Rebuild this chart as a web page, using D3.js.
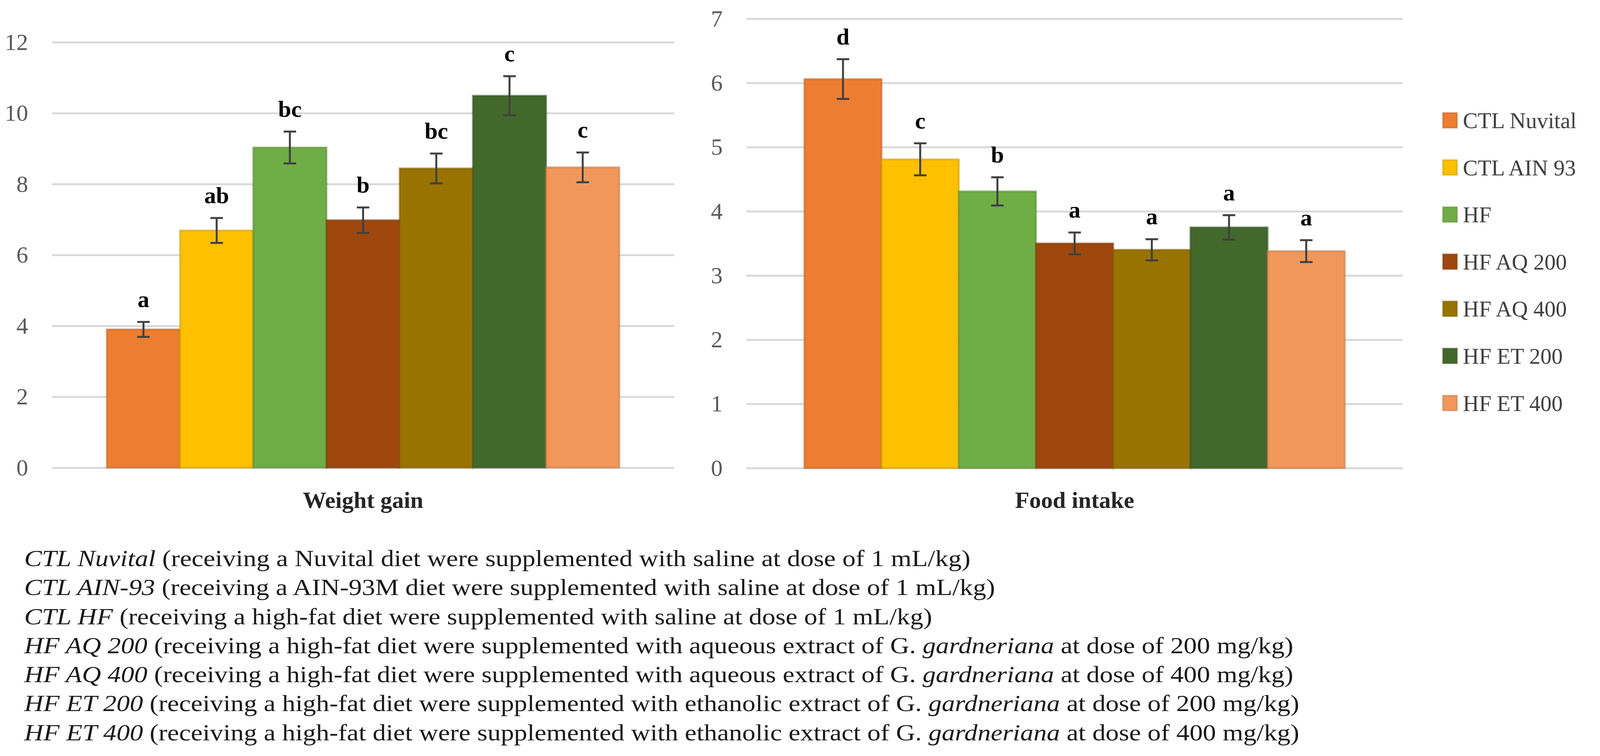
<!DOCTYPE html>
<html>
<head>
<meta charset="utf-8">
<script src="https://cdn.jsdelivr.net/npm/d3@7"></script>
<style>
  body { margin: 0; background: #fff; }
  text { font-family: 'Liberation Serif', 'Times New Roman', serif; }
</style>
</head>
<body>
<svg id="chart" width="4143" height="1935"></svg>
<script>
// groups (legend order = bar order)
const groups = ['CTL Nuvital', 'CTL AIN 93', 'HF', 'HF AQ 200', 'HF AQ 400', 'HF ET 200', 'HF ET 400'];

// weight gain panel
const weightGain = [3.9, 6.69, 9.03, 6.98, 8.44, 10.49, 8.47];
const weightErr = [0.21, 0.35, 0.45, 0.36, 0.42, 0.55, 0.42];
const weightLetters = ['a', 'ab', 'bc', 'b', 'bc', 'c', 'c'];
const weightTicks = [0, 2, 4, 6, 8, 10, 12];

// food intake panel
const foodIntake = [6.06, 4.81, 4.31, 3.5, 3.4, 3.75, 3.38];
const foodErr = [0.31, 0.25, 0.22, 0.17, 0.165, 0.19, 0.17];
const foodLetters = ['d', 'c', 'b', 'a', 'a', 'a', 'a'];
const foodTicks = [0, 1, 2, 3, 4, 5, 6, 7];

// caption lines: alternating italic / plain pieces
const captionLines = [
  ['CTL Nuvital', ' (receiving a Nuvital diet were supplemented with saline at dose of 1 mL/kg)'],
  ['CTL AIN-93', ' (receiving a AIN-93M diet were supplemented with saline at dose of 1 mL/kg)'],
  ['CTL HF', ' (receiving a high-fat diet were supplemented with saline at dose of 1 mL/kg)'],
  ['HF AQ 200', ' (receiving a high-fat diet were supplemented with aqueous extract of G. ', 'gardneriana', ' at dose of 200 mg/kg)'],
  ['HF AQ 400', ' (receiving a high-fat diet were supplemented with aqueous extract of G. ', 'gardneriana', ' at dose of 400 mg/kg)'],
  ['HF ET 200', ' (receiving a high-fat diet were supplemented with ethanolic extract of G. ', 'gardneriana', ' at dose of 200 mg/kg)'],
  ['HF ET 400', ' (receiving a high-fat diet were supplemented with ethanolic extract of G. ', 'gardneriana', ' at dose of 400 mg/kg)']
];

const colors = ['#ED7D31', '#FFC000', '#70AD47', '#9E480E', '#997300', '#43682B', '#F1975A'];

const svg = d3.select('#chart');

function panel(opts) {
  const { x0, x1, y0, yTop, max, values, errs, letters, ticks, title } = opts;

  const x = d3.scaleBand().domain(groups).range([x0, x1]).paddingInner(0).paddingOuter(0.75);
  const y = d3.scaleLinear().domain([0, max]).range([y0, yTop]);

  const g = svg.append('g');

  // gridlines + tick labels
  const axis = g.append('g')
    .attr('transform', `translate(${x0},0)`)
    .call(d3.axisLeft(y).tickValues(ticks).tickSize(-(x1 - x0)).tickPadding(61).tickFormat(d3.format('d')));
  axis.select('.domain').remove();
  axis.selectAll('.tick line').attr('stroke', '#d9d9d9').attr('stroke-width', 5);
  axis.selectAll('.tick text')
    .attr('fill', '#595959')
    .style('font-size', '60px')
    .style('font-family', "'Liberation Serif', serif");

  // bars
  g.selectAll('.bar')
    .data(values)
    .enter()
    .append('rect')
    .attr('class', 'bar')
    .attr('x', (d, i) => x(groups[i]))
    .attr('width', x.bandwidth())
    .attr('y', d => y(d))
    .attr('height', d => y(0) - y(d))
    .attr('fill', (d, i) => colors[i])
    .attr('stroke', (d, i) => d3.color(colors[i]).darker(0.6))
    .attr('stroke-opacity', 0.55)
    .attr('stroke-width', 5);

  // error bars
  const eb = g.selectAll('.err')
    .data(values)
    .enter()
    .append('g')
    .attr('class', 'err')
    .attr('stroke', '#404040')
    .attr('stroke-width', 5);
  const cx = i => x(groups[i]) + x.bandwidth() / 2;
  eb.append('line')
    .attr('x1', (d, i) => cx(i)).attr('x2', (d, i) => cx(i))
    .attr('y1', (d, i) => y(d + errs[i])).attr('y2', (d, i) => y(d - errs[i]));
  eb.append('line')
    .attr('x1', (d, i) => cx(i) - 16).attr('x2', (d, i) => cx(i) + 16)
    .attr('y1', (d, i) => y(d + errs[i])).attr('y2', (d, i) => y(d + errs[i]));
  eb.append('line')
    .attr('x1', (d, i) => cx(i) - 16).attr('x2', (d, i) => cx(i) + 16)
    .attr('y1', (d, i) => y(d - errs[i])).attr('y2', (d, i) => y(d - errs[i]));

  // significance letters
  g.selectAll('.letter')
    .data(values)
    .enter()
    .append('text')
    .attr('class', 'letter')
    .attr('x', (d, i) => cx(i))
    .attr('y', (d, i) => y(d + errs[i]) - 38)
    .attr('text-anchor', 'middle')
    .style('font-size', '60px')
    .style('font-weight', 'bold')
    .attr('fill', '#000')
    .text((d, i) => letters[i]);

  // category label
  g.append('text')
    .attr('x', (x0 + x1) / 2)
    .attr('y', 1300)
    .attr('text-anchor', 'middle')
    .style('font-size', '60px')
    .style('font-weight', 'bold')
    .attr('fill', '#262626')
    .text(title);
}

panel({ x0: 133, x1: 1726, y0: 1197, yTop: 108, max: 12, values: weightGain, errs: weightErr, letters: weightLetters, ticks: weightTicks, title: 'Weight gain' });
panel({ x0: 1911, x1: 3591, y0: 1198, yTop: 48, max: 7, values: foodIntake, errs: foodErr, letters: foodLetters, ticks: foodTicks, title: 'Food intake' });

// legend
const legend = svg.append('g').attr('transform', 'translate(3694,308)');
const li = legend.selectAll('g')
  .data(groups)
  .enter()
  .append('g')
  .attr('transform', (d, i) => `translate(0,${i * 120.6})`);
li.append('rect')
  .attr('x', 0).attr('y', -19)
  .attr('width', 36).attr('height', 38)
  .attr('fill', (d, i) => colors[i])
  .attr('stroke', (d, i) => d3.color(colors[i]).darker(0.6))
  .attr('stroke-opacity', 0.55)
  .attr('stroke-width', 4);
li.append('text')
  .attr('x', 51).attr('y', 20)
  .style('font-size', '57px')
  .attr('fill', '#404040')
  .text(d => d);

// caption
const cap = svg.append('g').attr('class', 'caption');
captionLines.forEach((parts, i) => {
  const t = cap.append('text')
    .attr('x', 0)
    .attr('y', 1449 + i * 74.3)
    .style('font-size', '60px')
    .attr('fill', '#1a1a1a');
  parts.forEach((p, k) => {
    t.append('tspan')
      .style('font-style', k % 2 === 0 ? 'italic' : 'normal')
      .text(p);
  });
});
// stretch the caption block so the first and fourth lines land near the original's line ends
const nodes = cap.selectAll('text').nodes();
const s1 = (2515 - 62) / nodes[0].getComputedTextLength();
const s4 = (3271 - 62) / nodes[3].getComputedTextLength();
cap.attr('transform', `translate(62,0) scale(${(s1 + s4) / 2},1)`);
</script>
</body>
</html>
